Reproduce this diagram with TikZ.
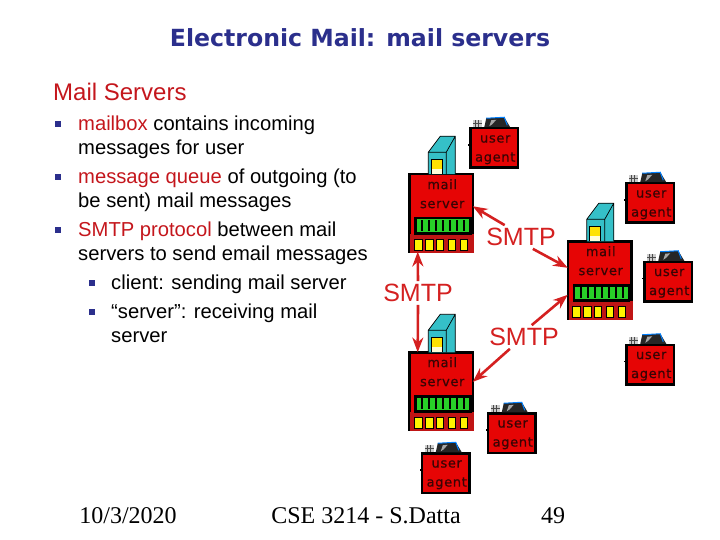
\documentclass[tikz,border=0pt]{standalone}
\usepackage{fontspec}
\setmainfont{Liberation Sans}
\newfontfamily\titlefont{DejaVu Sans}
\newfontfamily\footfont{Liberation Serif}
\newfontfamily\boxfont[LetterSpace=5,FakeBold=0.6]{DejaVu Sans}
\usetikzlibrary{positioning,arrows.meta}
\definecolor{navy}{HTML}{2B2F8C}
\definecolor{smtpred}{HTML}{D42020}
\definecolor{boxred}{HTML}{E60505}
\definecolor{lowred}{HTML}{C01515}
\definecolor{keyword}{HTML}{C4161C}
\definecolor{teal}{HTML}{35C0C8}
\definecolor{barlime}{HTML}{28D028}
\definecolor{boxtext}{HTML}{3A0404}

\begin{document}
\begin{tikzpicture}[x=1pt,y=-1pt,>=Stealth,
  body/.style={inner sep=0pt,anchor=north west,align=left,font=\fontsize{20.2}{24}\selectfont},
  bulletmark/.style={fill=navy,minimum size=6pt,inner sep=0pt},
  foot/.style={font=\footfont\fontsize{24}{24}\selectfont},
  agent/.style={draw=black,line width=2.5pt,fill=boxred,outer sep=0pt,minimum width=47.5pt,minimum height=39.5pt},
  server/.style={draw=black,line width=2.5pt,fill=boxred,outer sep=0pt,minimum width=63.5pt,minimum height=77.5pt},
  boxlabel/.style={inner sep=0pt,align=center,text=boxtext,font=\boxfont\fontsize{13}{19}\selectfont},
  proto/.style={text=smtpred,inner sep=0pt,outer sep=3pt,font=\fontsize{25}{25}\selectfont},
  link/.style={->,smtpred,line width=2.6pt}]
  \useasboundingbox (0,0) rectangle (720,540);

  \node[font=\titlefont\bfseries\fontsize{23.6}{24}\selectfont,text=navy] (title) at (360,38) {Electronic Mail: mail servers};
  \node[inner sep=0pt,anchor=west,font=\fontsize{24}{24}\selectfont,text=keyword] (heading) at (53,92) {Mail Servers};

  % bullet text
  \node[body] (itemA) at (78,116) {\textcolor{keyword}{mailbox} contains incoming\\messages for user};
  \node[body] (itemB) at (78,169) {\textcolor{keyword}{message queue} of outgoing (to\\be sent) mail messages};
  \node[body] (itemC) at (78,222) {\textcolor{keyword}{SMTP protocol} between mail\\servers to send email messages};
  \node[body] (itemD) at (111,275) {client: sending mail server};
  \node[body] (itemE) at (111,304) {“server”: receiving mail\\server};
  \node[bulletmark] (markA) at (58,124) {};
  \node[bulletmark] (markB) at (58,177) {};
  \node[bulletmark] (markC) at (58,230) {};
  \node[bulletmark] (markD) at (92,283) {};
  \node[bulletmark] (markE) at (92,312) {};

  % servers
  \node[server] (serverA) at (441,213) {};
  \node[server] (serverB) at (599.5,280) {};
  \node[server] (serverC) at (441,391) {};
  \foreach \s/\t in {serverA/labelA,serverB/labelB,serverC/labelC} {
    \begin{scope}[shift={(\s.north west)}]
      \fill[teal] (19,0)--(19,-22)--(31,-38)--(46,-38)--(46,0)--cycle;
      \draw[black,line width=.7pt] (19,0)--(19,-22)--(31,-38)--(46,-38)--(46,0) (19,-22)--(37,-22)--(46,-38) (37,-22)--(37,0);
      \fill[yellow!85!orange] (22,-15) rectangle (33,-5);
      \fill[white!85!yellow] (22,-5) rectangle (33,0);
      \draw[black,line width=.7pt] (22,0)--(22,-15)--(33,-15)--(33,0);
      \fill[lowred] (1,60) rectangle (65,79);
      \draw[black,line width=2.5pt,fill=barlime] (6,44) rectangle (61,59);
      \foreach \k in {13,20,27,34,41,48,55}
        \draw[black,line width=2pt] (\k,46)--(\k,57);
      \foreach \k/\w in {5/8,16/8,27/7,39/7,51/7}
        \draw[black,line width=.6pt,fill=yellow] (\k,65) rectangle ++(\w,11);
      \node[boxlabel] (\t) at (33,19.5) {mail\\server};
    \end{scope}
  }

  % user agents
  \node[agent] (agentA) at (494,148) {};
  \node[agent] (agentB) at (650,203) {};
  \node[agent] (agentC) at (668,281.5) {};
  \node[agent] (agentD) at (650,364.5) {};
  \node[agent] (agentE) at (511.5,433) {};
  \node[agent] (agentF) at (445.5,473) {};
  \foreach \a in {agentA,agentB,agentC,agentD,agentE,agentF} {
    \begin{scope}[shift={(\a.north west)}]
      \fill[black] (-2,16) rectangle (0,17.5);
      \fill[gray!40] (3,-8) rectangle (12,-1);
      \draw[black!70,line width=.5pt] (5,-8)--(5,-1) (8,-8)--(8,-1) (3,-5)--(12,-5);
      \fill[black!85] (14,-1)--(16,-10)--(34,-11)--(40,-1)--cycle;
      \draw[blue!50!cyan,line width=1pt] (16,-10)--(34,-11)--(37,-3);
      \fill[gray!70] (19,-2)--(21,-8)--(26,-8.5)--(22,-4)--cycle;
      \node[boxlabel] (\a text) at (25,21.5) {user\\agent};
    \end{scope}
  }

  % protocol labels
  \node[proto] (smtpA) at (521,237) {SMTP};
  \node[proto] (smtpB) at (418,293) {SMTP};
  \node[proto] (smtpC) at (524,337) {SMTP};

  \draw[link] (smtpA.144)--(serverA.12);
  \draw[link] (smtpA.-45)--(serverB.159);
  \draw[link] (smtpC.57)--(serverB.205);
  \draw[link] (smtpC.220)--(serverC.16);
  \draw[link] (smtpB.north)--(serverA.239);
  \draw[link] (smtpB.south)--(serverC.121);

  \node[foot] (date) at (128,516) {10/3/2020};
  \node[foot] (course) at (366,516) {CSE 3214 - S.Datta};
  \node[foot] (page) at (553,516) {49};
\end{tikzpicture}
\end{document}
